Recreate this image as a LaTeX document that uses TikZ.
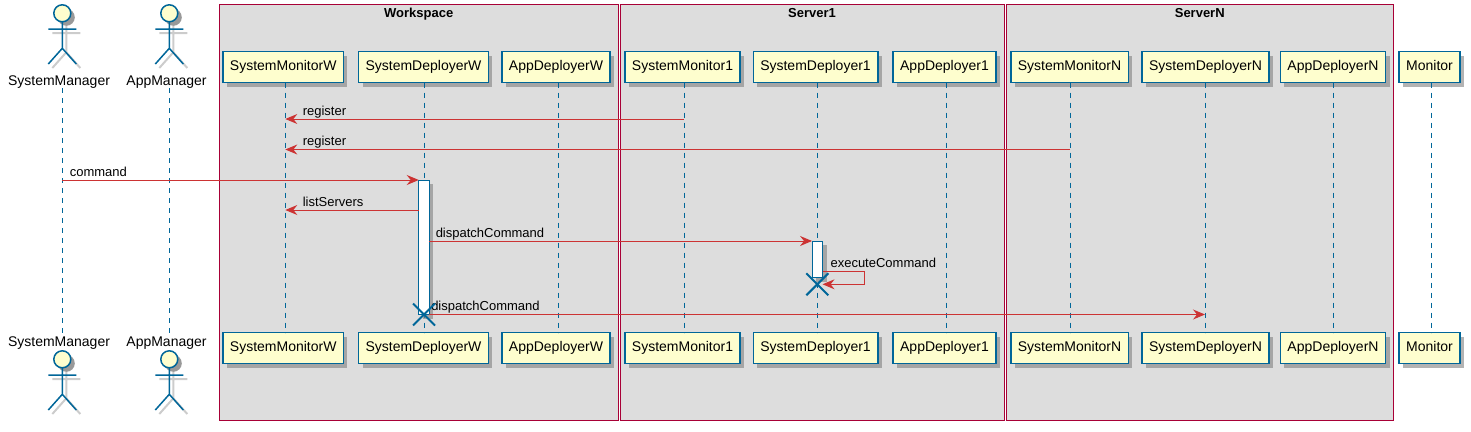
\documentclass[tikz,border=0pt]{standalone}
\usepackage{fontspec}
\setmainfont{Liberation Sans}
\usetikzlibrary{arrows.meta, positioning, shadows, shapes.misc}
\definecolor{umlblue}{HTML}{006699}
\definecolor{umlred}{HTML}{CC3333}
\definecolor{umlgroup}{HTML}{A80036}
\definecolor{umlfill}{HTML}{FEFECE}
\definecolor{umlgray}{HTML}{DDDDDD}
\tikzset{
  partbox/.style={draw=umlblue, fill=umlfill, line width=1.5pt, inner xsep=7pt, inner ysep=0pt, outer sep=0pt,
    minimum height=31pt, text height=10pt, text depth=3pt, font=\fontsize{14}{16}\selectfont,
    drop shadow={shadow xshift=4pt, shadow yshift=-4pt, fill=black!50, opacity=0.6}},
  actorname/.style={anchor=base, inner sep=0pt, font=\fontsize{14}{16}\selectfont},
  grpbox/.style={draw=umlgroup, fill=umlgray, line width=1pt, anchor=north west, minimum height=416pt, inner sep=0pt, outer sep=0pt},
  grptitle/.style={anchor=base, inner sep=0pt, font=\fontsize{13}{15}\selectfont\bfseries},
  lifeline/.style={draw=umlblue, line width=1pt, dash pattern=on 5pt off 5pt},
  msg/.style={draw=umlred, line width=1pt, -{Stealth[length=12pt, width=10pt, inset=4pt]}},
  msgtext/.style={anchor=base west, inner sep=0pt, yshift=4pt, text=black, font=\fontsize{13}{15}\selectfont},
  activebox/.style={draw=umlblue, fill=white, line width=1pt, anchor=north, minimum width=10.5pt, inner sep=0pt, outer sep=0pt,
    drop shadow={shadow xshift=4pt, shadow yshift=-4pt, fill=black!50, opacity=0.6}},
  endmark/.style={cross out, draw=umlblue, line width=2pt, minimum size=20pt, inner sep=0pt},
  pics/stickman/.style={code={
    % shadow first
    \draw[black!20, line width=2pt, xshift=4pt, yshift=-4pt]
      (-14,15.7) -- (14,15.7) (0,8) -- (0,35) (-14,50.7) -- (0,35) -- (14,50.7);
    \fill[black!40, xshift=4pt, yshift=-4pt] (0,0) circle (8.5pt);
    \draw[umlblue, line width=1.5pt] (-14,15.7) -- (14,15.7) (0,8) -- (0,35)
      (-14,50.7) -- (0,35) -- (14,50.7);
    \filldraw[draw=umlblue, fill=umlfill, line width=1.5pt] (0,0) circle (8.5pt);
  }}
}
\begin{document}
\begin{tikzpicture}[x=1pt, y=-1pt]
  \useasboundingbox (0,0) rectangle (1471,431);

  % Groups
  \foreach \nm/\txt/\gx/\gw in {work/Workspace/219.5/398.5, srvA/Server1/620/384, srvN/ServerN/1006/387.5} {
    \node[grpbox, minimum width=\gw pt] (\nm) at (\gx,4.5) {};
    \node[grptitle] (\nm-title) at ([yshift=-12.5pt]\nm.north) {\txt};
  }

  % Participants with their lifelines
  \foreach \nm/\txt/\cx/\lx in {monW/SystemMonitorW/283.2/285.3, depW/SystemDeployerW/423.5/424,
      appW/AppDeployerW/556/558, monA/SystemMonitor1/682.5/684, depA/SystemDeployer1/815.5/817.3,
      appA/AppDeployer1/944.5/946.3, monN/SystemMonitorN/1069.5/1070, depN/SystemDeployerN/1205.5/1205,
      appN/AppDeployerN/1333/1333.5, monX/Monitor/1429.5/1431.3} {
    \coordinate (\nm-line) at (\lx,0);
    \node[partbox] (\nm-top) at (\cx,67) {\txt};
    \node[partbox] (\nm-bot) at (\cx,348) {\txt};
    \draw[lifeline] (\nm-top.south -| \nm-line) -- (\nm-bot.north -| \nm-line);
  }

  % Actors
  \foreach \nm/\txt/\cx/\lx in {sysM/SystemManager/59/62.3, appM/AppManager/166.5/169.3} {
    \coordinate (\nm-line) at (\lx,0);
    \pic at (\lx,13.3) {stickman};
    \node[actorname] (\nm-top) at (\cx,85) {\txt};
    \node[actorname] (\nm-bot) at (\cx,346.7) {\txt};
    \draw[lifeline] (\nm-top.south -| \nm-line) -- (\nm-bot.north -| \nm-line);
    \pic at (\lx,359.3) {stickman};
  }

  % Message rows
  \coordinate (rowA) at (0,119);
  \coordinate (rowB) at (0,149.5);
  \coordinate (rowC) at (0,180);
  \coordinate (rowD) at (0,210);
  \coordinate (rowE) at (0,241);
  \coordinate (rowF) at (0,271.3);
  \coordinate (rowG) at (0,284.3);
  \coordinate (rowH) at (0,314.5);
  \coordinate (selfTurn) at (864.3,0);

  % Activations
  \node[activebox, minimum height=134.5pt] (actW) at ([yshift=-180pt]depW-line) {};
  \node[activebox, minimum height=36.5pt] (actA) at ([yshift=-241pt]depA-line) {};

  % Messages
  \draw[msg] (monA-line |- rowA) -- (monW-line |- rowA) node[msgtext, xshift=17pt] {register};
  \draw[msg] (monN-line |- rowB) -- (monW-line |- rowB) node[msgtext, xshift=17pt] {register};
  \draw[msg] (sysM-line |- rowC) -- (actW.west |- rowC) node[pos=0, msgtext, xshift=7pt] {command};
  \draw[msg] (actW.west |- rowD) -- (monW-line |- rowD) node[msgtext, xshift=17pt] {listServers};
  \draw[msg] (actW.east |- rowE) -- (actA.west |- rowE) node[pos=0, msgtext, xshift=6pt] {dispatchCommand};
  \draw[msg] (actA.east |- rowF) -- (selfTurn |- rowF) node[pos=0, msgtext, xshift=7.5pt] {executeCommand}
    -- (selfTurn |- rowG) -- (actA.east |- rowG);
  \draw[msg] (actW.east |- rowH) -- (depN-line |- rowH) node[pos=0, msgtext, xshift=1.5pt] {dispatchCommand};

  % Ends
  \node[endmark] (endW) at (depW-line |- rowH) {};
  \node[endmark] (endA) at (depA-line |- rowG) {};
\end{tikzpicture}
\end{document}
